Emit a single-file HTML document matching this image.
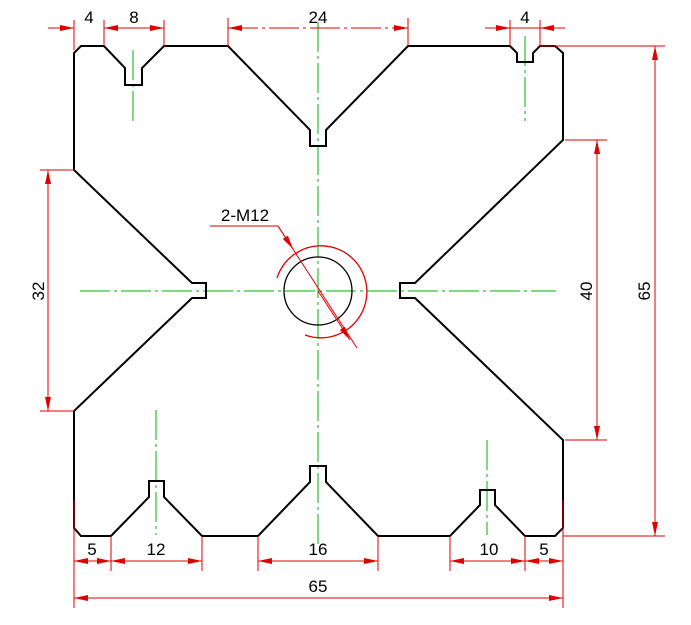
<!DOCTYPE html>
<html><head><meta charset="utf-8"><style>html,body{margin:0;padding:0;background:#fff}svg{display:block}</style></head><body>
<svg width="691" height="625" viewBox="0 0 691 625" xmlns="http://www.w3.org/2000/svg">
<defs>
<marker id="a" viewBox="0 0 14 6" refX="14" refY="3" markerWidth="14" markerHeight="6" markerUnits="userSpaceOnUse" orient="auto-start-reverse"><path d="M0,0L14,3L0,6z" fill="#e00000"/></marker>
</defs>
<g stroke="#00b000" stroke-width="1" stroke-dasharray="30,4,3,4" fill="none">
<line x1="318" y1="22" x2="318" y2="545"/>
<line x1="80" y1="291" x2="556" y2="291"/>
<line x1="133" y1="50" x2="133" y2="124"/>
<line x1="525" y1="36" x2="525" y2="121"/>
<line x1="156" y1="410" x2="156" y2="535"/>
<line x1="487" y1="440" x2="487" y2="535"/>
</g>
<path d="M74,53 L81,46 L104,46 L125,68 L125,85 L142,85 L142,68 L164,46 L228,46 L310,130 L310,146 L326,146 L326,130 L408,46 L510,46 L517,53 L517,62 L533,62 L533,53 L540,46 L555,46 L563,53 L563,140 L415,283 L400,283 L400,298 L415,298 L563,440 L563,528 L555,536 L525,536 L495,505 L495,490 L480,490 L480,505 L450,536 L378,536 L326,482 L326,466 L310,466 L310,482 L258,536 L202,536 L164,497 L164,481 L149,481 L149,497 L111,536 L81,536 L74,528 L74,411 L192,298 L206,298 L206,283 L192,283 L74,170 Z" fill="none" stroke="#000" stroke-width="2"/>
<circle cx="318" cy="291" r="34" fill="none" stroke="#000" stroke-width="1.3"/>
<path d="M277,278 A46,46 0 1 1 305,335" fill="none" stroke="#e00000" stroke-width="1.3"/>
<g stroke="#e00000" stroke-width="1" fill="none">
<polyline points="210,226 278,226 357,348"/>
<line x1="278" y1="226" x2="293" y2="249" marker-end="url(#a)"/>
<line x1="318" y1="291" x2="350" y2="340" marker-end="url(#a)"/>
<line x1="74" y1="20" x2="74" y2="50"/><line x1="104" y1="20" x2="104" y2="46"/><line x1="164" y1="20" x2="164" y2="46"/>
<line x1="48" y1="28" x2="74" y2="28" marker-end="url(#a)"/>
<line x1="104" y1="28" x2="164" y2="28" marker-start="url(#a)" marker-end="url(#a)"/>
<line x1="228" y1="18" x2="228" y2="46"/><line x1="408" y1="18" x2="408" y2="46"/>
<line x1="228" y1="28" x2="408" y2="28" stroke-dasharray="30,4,3,4" marker-start="url(#a)" marker-end="url(#a)"/>
<line x1="510" y1="20" x2="510" y2="46"/><line x1="540" y1="20" x2="540" y2="46"/>
<line x1="485" y1="28" x2="510" y2="28" marker-end="url(#a)"/>
<line x1="565" y1="28" x2="540" y2="28" marker-end="url(#a)"/>
<line x1="510" y1="28" x2="540" y2="28"/>
<line x1="540" y1="46" x2="665" y2="46"/><line x1="563" y1="536" x2="665" y2="536"/>
<line x1="655" y1="46" x2="655" y2="536" marker-start="url(#a)" marker-end="url(#a)"/>
<line x1="565" y1="140" x2="607" y2="140"/><line x1="565" y1="440" x2="607" y2="440"/>
<line x1="597" y1="140" x2="597" y2="440" marker-start="url(#a)" marker-end="url(#a)"/>
<line x1="40" y1="170" x2="74" y2="170"/><line x1="40" y1="411" x2="74" y2="411"/>
<line x1="48" y1="170" x2="48" y2="411" marker-start="url(#a)" marker-end="url(#a)"/>
<line x1="74" y1="500" x2="74" y2="608"/><line x1="111" y1="536" x2="111" y2="571"/><line x1="202" y1="536" x2="202" y2="571"/>
<line x1="258" y1="536" x2="258" y2="571"/><line x1="378" y1="536" x2="378" y2="571"/>
<line x1="450" y1="536" x2="450" y2="571"/><line x1="525" y1="536" x2="525" y2="571"/><line x1="563" y1="500" x2="563" y2="608"/>
<line x1="74" y1="561" x2="111" y2="561" marker-start="url(#a)" marker-end="url(#a)"/>
<line x1="111" y1="561" x2="202" y2="561" marker-start="url(#a)" marker-end="url(#a)"/>
<line x1="258" y1="561" x2="378" y2="561" marker-start="url(#a)" marker-end="url(#a)"/>
<line x1="450" y1="561" x2="525" y2="561" marker-start="url(#a)" marker-end="url(#a)"/>
<line x1="525" y1="561" x2="563" y2="561" marker-start="url(#a)" marker-end="url(#a)"/>
<line x1="74" y1="598" x2="563" y2="598" marker-start="url(#a)" marker-end="url(#a)"/>
</g>
<g font-family="Liberation Sans, sans-serif" font-size="17" fill="#000" text-anchor="middle">
<text x="89" y="23">4</text><text x="134" y="23">8</text><text x="318" y="23">24</text><text x="525" y="23">4</text>
<text x="245" y="221">2-M12</text>
<text x="92" y="555">5</text><text x="156" y="555">12</text><text x="318" y="555">16</text><text x="489" y="555">10</text><text x="544" y="555">5</text>
<text x="318" y="592">65</text>
<text transform="translate(44,291) rotate(-90)">32</text>
<text transform="translate(592,291) rotate(-90)">40</text>
<text transform="translate(650,291) rotate(-90)">65</text>
</g>
</svg>
</body></html>
